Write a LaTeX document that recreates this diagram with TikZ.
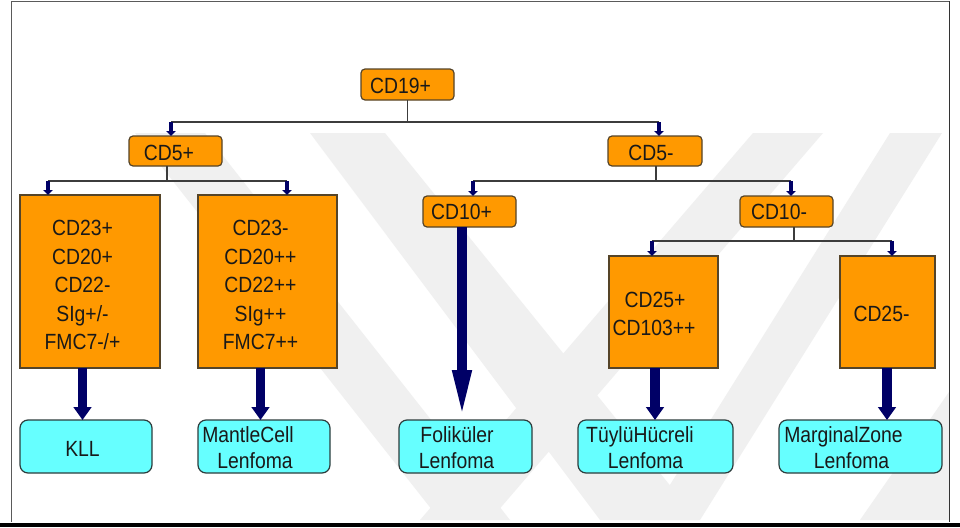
\documentclass[tikz,border=0pt]{standalone}
\usepackage{fontspec}
\setmainfont{Liberation Sans}[FakeStretch=0.88]
\usetikzlibrary{arrows.meta}

\definecolor{boxorange}{RGB}{255,153,0}
\definecolor{orangeedge}{RGB}{85,68,40}
\definecolor{leafcyan}{RGB}{102,255,255}
\definecolor{leafedge}{RGB}{45,60,60}
\definecolor{navy}{RGB}{0,0,102}
\definecolor{connline}{RGB}{60,60,60}
\definecolor{wmgray}{RGB}{240,240,240}
\definecolor{inkdark}{RGB}{25,25,25}
\definecolor{framegray}{RGB}{90,90,90}

\begin{document}
\begin{tikzpicture}[x=1pt,y=-1pt,
  every node/.style={inner sep=0pt, outer sep=0pt},
  tagbox/.style={draw=orangeedge, line width=1.2pt, fill=boxorange, rounded corners=4pt, anchor=north west},
  panel/.style={draw=orangeedge, line width=1.2pt, fill=boxorange, anchor=north west},
  leaf/.style={draw=leafedge, line width=1.2pt, fill=leafcyan, rounded corners=8pt, anchor=north west},
  txt/.style={anchor=base, text=inkdark, font=\fontsize{22}{28}\selectfont},
  conn/.style={draw=connline, line width=1.4pt},
  smallhead/.style={draw=navy, line width=4.5pt, -{Triangle[width=9.5pt,length=5pt]}},
  bigarrow/.style={draw=navy, line width=9.5pt, -{Triangle[width=17.5pt,length=13pt]}},
  longarrow/.style={draw=navy, line width=9.5pt, -{Triangle[width=17pt,length=50pt]}},
]
\useasboundingbox (0,0) rectangle (960,527);
\fill[white] (0,0) rectangle (960,527);

% faint background emblem: two crossing chevrons
\begin{scope}
  \clip (12,133) rectangle (949,522);
  \fill[wmgray] (135,133) -- (205,133) -- (510,520) -- (440,520) -- cycle;
  \fill[wmgray] (753,133) -- (823,133) -- (490,520) -- (420,520) -- cycle;
  \fill[wmgray] (310,133) -- (385,133) -- (698,520) -- (600,520) -- cycle;
  \fill[wmgray] (890,133) -- (942,133) -- (700,520) -- (648,520) -- cycle;
  \fill[wmgray] (949,392) -- (949,520) -- (860,520) -- cycle;
\end{scope}

% frame
\draw[framegray, line width=1.7pt] (11.5,522) -- (11.5,1.5) -- (949.5,1.5);
\draw[black!80, line width=1.5pt] (949.5,1.5) -- (949.5,522);
\fill[black] (0,522.5) rectangle (960,527);

% decision boxes
\node[tagbox, minimum width=93pt, minimum height=31pt] (cd19) at (361,69) {};
\node[tagbox, minimum width=93pt, minimum height=30pt] (cd5p) at (129,136) {};
\node[tagbox, minimum width=94pt, minimum height=30pt] (cd5m) at (608,136) {};
\node[tagbox, minimum width=93pt, minimum height=31pt] (cd10p) at (423,196) {};
\node[tagbox, minimum width=93pt, minimum height=31pt] (cd10m) at (740,196) {};

\node[txt] (cd19t) at (400.5,93) {CD19+};
\node[txt] (cd5pt) at (169,160.5) {CD5+};
\node[txt] (cd5mt) at (651,160.5) {CD5-};
\node[txt] (cd10pt) at (461.5,219.5) {CD10+};
\node[txt] (cd10mt) at (779,219.5) {CD10-};

% marker panels
\node[panel, minimum width=140pt, minimum height=173pt] (b1) at (20,195) {};
\node[panel, minimum width=139pt, minimum height=173pt] (b2) at (198,195) {};
\node[panel, minimum width=109pt, minimum height=112pt] (cd25p) at (609,256) {};
\node[panel, minimum width=95pt, minimum height=112pt] (cd25m) at (840,256) {};

\node[txt] (b1l1) at (82.5,235.5) {CD23+};
\node[txt] (b1l2) at (82.5,264) {CD20+};
\node[txt] (b1l3) at (82.5,292.5) {CD22-};
\node[txt] (b1l4) at (82.5,321) {SIg+/-};
\node[txt] (b1l5) at (82.5,349.5) {FMC7-/+};

\node[txt] (b2l1) at (260.5,235.5) {CD23-};
\node[txt] (b2l2) at (260.5,264) {CD20++};
\node[txt] (b2l3) at (260.5,292.5) {CD22++};
\node[txt] (b2l4) at (260.5,321) {SIg++};
\node[txt] (b2l5) at (260.5,349.5) {FMC7++};

\node[txt] (cd25pl1) at (655,307) {CD25+};
\node[txt] (cd25pl2) at (654,335) {CD103++};
\node[txt] (cd25mt) at (881.5,321) {CD25-};

% diagnoses
\node[leaf, minimum width=132pt, minimum height=53pt] (kll) at (20,420) {};
\node[leaf, minimum width=132pt, minimum height=53pt] (mcl) at (198,420) {};
\node[leaf, minimum width=133pt, minimum height=53pt] (fol) at (399,420) {};
\node[leaf, minimum width=155pt, minimum height=53pt] (tuy) at (578,420) {};
\node[leaf, minimum width=163pt, minimum height=53pt] (mzl) at (779,420) {};

\node[txt] (kllt) at (82.5,456) {KLL};
\node[txt] (mcl1) at (248,442) {MantleCell};
\node[txt] (mcl2) at (255,468) {Lenfoma};
\node[txt] (fol1) at (457,442) {Foliküler};
\node[txt] (fol2) at (456.5,468) {Lenfoma};
\node[txt] (tuy1) at (640,442) {TüylüHücreli};
\node[txt] (tuy2) at (645.5,468) {Lenfoma};
\node[txt] (mzl1) at (843.5,442) {MarginalZone};
\node[txt] (mzl2) at (851.5,468) {Lenfoma};

% tree connectors
\coordinate (h1a) at (171,122);
\coordinate (h1b) at (659,122);
\draw[conn] (cd19.south) -- (cd19.south |- h1a);
\draw[conn] (h1a) -- (h1b);
\draw[smallhead] (h1a) -- (h1a |- cd5p.north);
\draw[smallhead] (h1b) -- (h1b |- cd5m.north);

\coordinate (s5p) at (167,181);
\coordinate (h2a) at (48,181);
\coordinate (h2b) at (287,181);
\draw[conn] (s5p |- cd5p.south) -- (s5p);
\draw[conn] (h2a) -- (h2b);
\draw[smallhead] (h2a) -- (h2a |- b1.north);
\draw[smallhead] (h2b) -- (h2b |- b2.north);

\coordinate (s5m) at (656,181);
\coordinate (h3a) at (473,181);
\coordinate (h3b) at (791,181);
\draw[conn] (s5m |- cd5m.south) -- (s5m);
\draw[conn] (h3a) -- (h3b);
\draw[smallhead] (h3a) -- (h3a |- cd10p.north);
\draw[smallhead] (h3b) -- (h3b |- cd10m.north);

\coordinate (s10m) at (794,241);
\coordinate (h4a) at (652,241);
\coordinate (h4b) at (892,241);
\draw[conn] (s10m |- cd10m.south) -- (s10m);
\draw[conn] (h4a) -- (h4b);
\draw[smallhead] (h4a) -- (h4a |- cd25p.north);
\draw[smallhead] (h4b) -- (h4b |- cd25m.north);

% result arrows
\coordinate (a1) at (82.5,368);
\coordinate (a2) at (260.5,368);
\coordinate (a3) at (462,227);
\coordinate (a4) at (655,368);
\coordinate (a5) at (887,368);
\draw[bigarrow] (a1 |- b1.south) -- (a1 |- kll.north);
\draw[bigarrow] (a2 |- b2.south) -- (a2 |- mcl.north);
\draw[longarrow] (a3 |- cd10p.south) -- (a3 |- fol.north);
\draw[bigarrow] (a4 |- cd25p.south) -- (a4 |- tuy.north);
\draw[bigarrow] (a5 |- cd25m.south) -- (a5 |- mzl.north);
\end{tikzpicture}
\end{document}
